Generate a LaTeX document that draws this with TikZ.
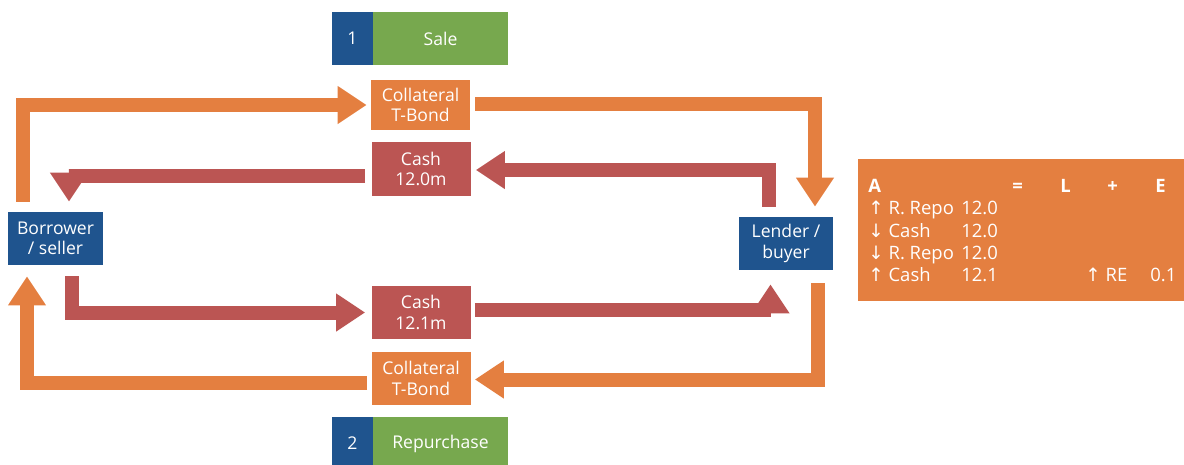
\documentclass[tikz,border=0pt]{standalone}
\usepackage{fontspec}
\setmainfont{Open Sans}
\newfontfamily\arrfont{DejaVu Sans}
\usetikzlibrary{calc}
\usetikzlibrary{arrows.meta}
\definecolor{repoorange}{HTML}{E47F40}
\definecolor{repored}{HTML}{BB5553}
\definecolor{repoblue}{HTML}{1F548E}
\definecolor{repogreen}{HTML}{77A84E}
\tikzset{
  box/.style={fill=#1, text=white, inner sep=0pt, align=center,
    font=\fontsize{10}{11.5}\selectfont},
  flow/.style={draw=#1, line width=14*0.02cm, line join=miter, line cap=butt,
    -{Triangle[length=29*0.02cm, width=36*0.02cm]}},
  entry/.style={text=white, inner sep=0pt, anchor=base west,
    font=\fontsize{10.5}{12}\selectfont},
}
\newcommand{\up}{{\arrfont\char"2191}}
\newcommand{\down}{{\arrfont\char"2193}}

\begin{document}
\begin{tikzpicture}[x=0.02cm,y=0.02cm]
\useasboundingbox (0,0) rectangle (1184,-464);
\def\w{99*0.02cm}

% step labels
\node[box=repoblue, minimum width=41*0.02cm, minimum height=53*0.02cm] (n1) at (352.5,-38.5) {1};
\node[box=repogreen, minimum width=135*0.02cm, minimum height=53*0.02cm] (sale) at (440.5,-38.5) {Sale};
\node[box=repoblue, minimum width=41*0.02cm, minimum height=53*0.02cm] (n2) at (352.5,-443.5) {2};
\node[box=repogreen, minimum width=135*0.02cm, minimum height=53*0.02cm] (rep) at (440.5,-443.5) {Repurchase};

% parties
\node[box=repoblue, minimum width=95*0.02cm, minimum height=53*0.02cm] (bor) at (55.5,-238.5) {Borrower\\/ seller};
\node[box=repoblue, minimum width=94*0.02cm, minimum height=53*0.02cm] (len) at (786,-243.5) {Lender /\\buyer};

% what moves
\node[box=repoorange, minimum width=\w, minimum height=50*0.02cm] (col1) at (420.5,-105) {Collateral\\T-Bond};
\node[box=repored, minimum width=\w, minimum height=54*0.02cm] (cash1) at (421,-169) {Cash\\12.0m};
\node[box=repored, minimum width=\w, minimum height=53*0.02cm] (cash2) at (421,-312.5) {Cash\\12.1m};
\node[box=repoorange, minimum width=\w, minimum height=53*0.02cm] (col2) at (421,-378.5) {Collateral\\T-Bond};

% sale leg
\draw[flow=repoorange] ($(bor.north west)+(15.5,10)$) |- ($(col1.west)+(-4,0)$);
\draw[flow=repoorange] ($(col1.east)+(5,1)$) -| ($(len.north)+(29,10)$);
\draw[flow=repored] ($(len.north)+(-17,10)$) |- ($(cash1.east)+(5,-1)$);
\draw[flow=repored] ($(cash1.west)+(-6,-6.5)$) -| ($(bor.north)+(13.5,10)$);

% repurchase leg
\draw[flow=repored] ($(bor.south)+(16,-11)$) |- ($(cash2.west)+(-6,0)$);
\draw[flow=repored] ($(cash2.east)+(4,2.5)$) -| ($(len.south)+(-15.5,-14)$);
\draw[flow=repoorange] ($(len.south)+(32,-13)$) |- ($(col2.east)+(4,-1)$);
\draw[flow=repoorange] ($(col2.west)+(-4,-4.5)$) -| ($(bor.south)+(-28.5,-11)$);

% balance sheet
\node[fill=repoorange, minimum width=326*0.02cm, minimum height=142*0.02cm, inner sep=0pt, anchor=north west] (panel) at (858,-159) {};
\node[entry, font=\fontsize{10.5}{12}\bfseries] (hA) at (868,-192) {A};
\node[entry, font=\fontsize{10.5}{12}\bfseries] (hEq) at (1012,-192) {=};
\node[entry, font=\fontsize{10.5}{12}\bfseries] (hL) at (1060,-192) {L};
\node[entry, font=\fontsize{10.5}{12}\bfseries] (hP) at (1107,-192) {+};
\node[entry, font=\fontsize{10.5}{12}\bfseries] (hE) at (1155,-192) {E};
\node[entry] (r1) at (868,-214) {\up\ R. Repo};
\node[entry] (v1) at (961,-214) {12.0};
\node[entry] (r2) at (868,-237) {\down\ Cash};
\node[entry] (v2) at (961,-237) {12.0};
\node[entry] (r3) at (868,-259) {\down\ R. Repo};
\node[entry] (v3) at (961,-259) {12.0};
\node[entry] (r4) at (868,-281) {\up\ Cash};
\node[entry] (v4) at (961,-281) {12.1};
\node[entry] (re) at (1085,-281) {\up\ RE};
\node[entry] (vre) at (1150,-281) {0.1};
\end{tikzpicture}
\end{document}
